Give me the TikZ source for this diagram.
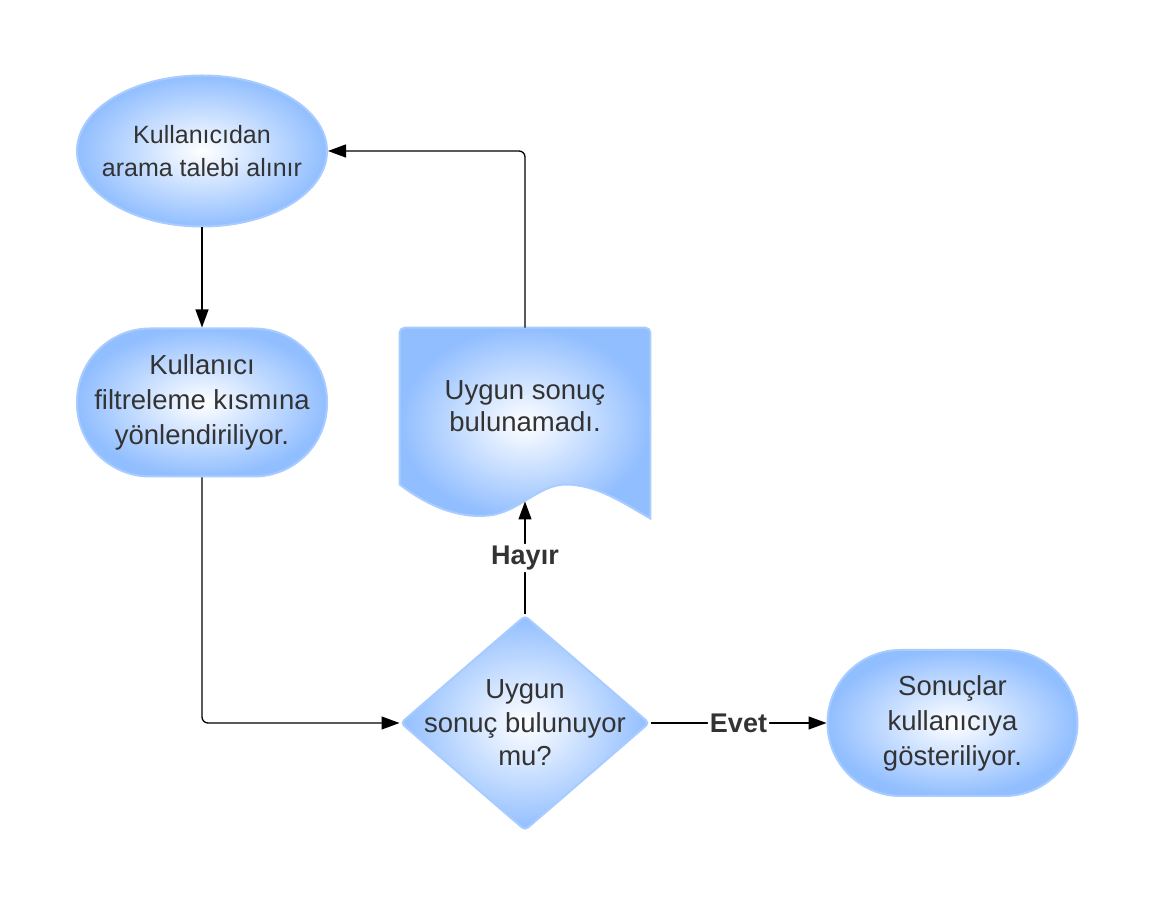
\documentclass[tikz,border=0pt]{standalone}
\usepackage{fontspec}
\setmainfont{Liberation Sans}
\usetikzlibrary{arrows.meta,positioning,shapes.geometric,backgrounds}
\definecolor{flowfill}{RGB}{145,190,255}
\definecolor{flowedge}{RGB}{168,204,255}
\definecolor{flowtext}{RGB}{51,51,51}
\tikzset{
  flowstart/.style={
    ellipse,
    inner color=white,
    outer color=flowfill,
    draw=flowedge,
    line width=1pt,
    align=center,
    minimum width=125pt,
    minimum height=75.5pt,
    inner sep=-15pt,
    text=flowtext,
    font=\fontsize{12.5}{16.5}\selectfont
  },
  flowround/.style={
    rectangle,
    rounded corners=36.5pt,
    inner color=white,
    outer color=flowfill,
    draw=flowedge,
    line width=1pt,
    align=center,
    minimum width=125pt,
    minimum height=74pt,
    inner sep=2pt,
    text=flowtext,
    font=\fontsize{13.75}{17.5}\selectfont
  },
  flowdecision/.style={
    diamond,
    rounded corners=2pt,
    inner color=white,
    outer color=flowfill,
    draw=flowedge,
    line width=1pt,
    align=center,
    minimum width=124.5pt,
    minimum height=107.5pt,
    inner sep=-20pt,
    text=flowtext,
    font=\fontsize{13.75}{16.75}\selectfont
  },
  flowdoc/.style={
    rectangle,
    align=center,
    minimum width=125pt,
    minimum height=78pt,
    inner sep=0pt,
    text=flowtext,
    font=\fontsize{13.75}{16}\selectfont
  },
  flowdocshape/.style={
    inner color=white,
    outer color=flowfill,
    draw=flowedge,
    line width=1pt
  },
  flowarrow/.style={
    -{Triangle[length=9pt,width=6.5pt]},
    line width=0.65pt,
    rounded corners=3pt,
    draw=black
  },
  flowlabel/.style={
    fill=white,
    inner sep=1pt,
    text=flowtext,
    font=\fontsize{13.5}{16}\selectfont\bfseries
  }
}

\begin{document}
\begin{tikzpicture}[x=0.5pt,y=-0.5pt]
\useasboundingbox (0,0) rectangle (1153,908);
\node[flowstart] (request) at (202,151) {Kullanıcıdan\\arama talebi alınır};
\node[flowround, below=50pt of request] (filter) {Kullanıcı\\filtreleme kısmına\\yönlendiriliyor.};
\node[flowdecision] (check) at (525,723) {Uygun\\sonuç bulunuyor\\mu?};
\node[flowround, minimum height=73pt, right=88pt of check] (result) {Sonuçlar\\kullanıcıya\\gösteriliyor.};
\node[flowdoc, above=65pt of check] (notfound) {Uygun sonuç\\bulunamadı.};
\coordinate (wavept) at ([yshift=-8.5pt]notfound.south);

\begin{scope}[on background layer]
\path[flowdocshape] (notfound.south west) [rounded corners=2.5pt] -- (notfound.north west)
  -- (notfound.north east) [sharp corners] -- ([yshift=-17pt]notfound.south east)
  .. controls ([shift={(114.5pt,-11pt)}]notfound.south west) and ([shift={(99.5pt,0pt)}]notfound.south west)
  .. ([shift={(83pt,0pt)}]notfound.south west)
  .. controls ([shift={(69.5pt,0pt)}]notfound.south west) and ([shift={(59.5pt,-14pt)}]notfound.south west)
  .. ([shift={(44.5pt,-15.5pt)}]notfound.south west)
  .. controls ([shift={(29.5pt,-17pt)}]notfound.south west) and ([shift={(14.5pt,-11pt)}]notfound.south west)
  .. (notfound.south west) -- cycle;
\end{scope}

\draw[flowarrow] (request) -- (filter);
\draw[flowarrow] (filter) |- (check);
\draw[flowarrow] (check) -- node[flowlabel] {Hayır} (wavept);
\draw[flowarrow] (check) -- node[flowlabel] {Evet} (result);
\draw[flowarrow] (notfound) |- (request);
\end{tikzpicture}
\end{document}
